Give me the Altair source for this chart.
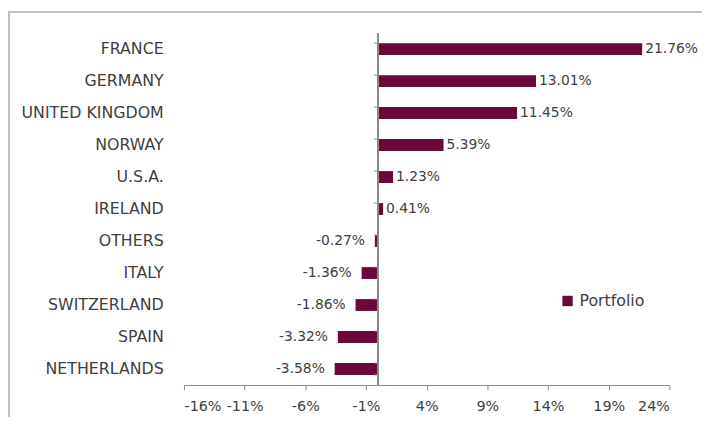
import altair as alt
import pandas as pd

countries = ["FRANCE", "GERMANY", "UNITED KINGDOM", "NORWAY", "U.S.A.", "IRELAND",
             "OTHERS", "ITALY", "SWITZERLAND", "SPAIN", "NETHERLANDS"]
values = [21.76, 13.01, 11.45, 5.39, 1.23, 0.41, -0.27, -1.36, -1.86, -3.32, -3.58]
series = "Portfolio"
x_ticks = [-16, -11, -6, -1, 4, 9, 14, 19, 24]

df = pd.DataFrame({
    "country": countries,
    "value": values,
    "series": [series] * len(countries),
    "label": [f"{v:.2f}%" for v in values],
})

FONT = "DejaVu Sans"
TXT = "#404040"
BAR = "#6A0A3A"
GRID = "#8c8c8c"

y_enc = alt.Y("country:N", sort=countries,
              scale=alt.Scale(paddingInner=0.63, paddingOuter=0.315),
              axis=alt.Axis(title=None, ticks=False, domain=False, labelPadding=21,
                            labelFont=FONT, labelFontSize=16, labelColor=TXT))

base = alt.Chart(df)

bars = base.mark_bar(size=12).encode(
    x=alt.X("value:Q", scale=alt.Scale(domain=[-16, 24], nice=False, zero=False),
            axis=alt.Axis(title=None, values=x_ticks, grid=False, tickSize=5,
                          domainColor=GRID, tickColor=GRID, labelPadding=10,
                          labelFont=FONT, labelFontSize=14.5, labelColor=TXT,
                          labelExpr="datum.value + '%'")),
    x2=alt.datum(0),
    y=y_enc,
    color=alt.Color("series:N", scale=alt.Scale(range=[BAR]),
                    legend=alt.Legend(title=None, orient="none", legendX=380, legendY=263,
                                      symbolType="square", symbolSize=110,
                                      symbolStrokeWidth=0, labelFont=FONT,
                                      labelFontSize=16, labelColor=TXT)),
)

pos_text = base.transform_filter("datum.value >= 0").mark_text(
    align="left", baseline="middle", dx=3, font=FONT, fontSize=14, color=TXT
).encode(x="value:Q", y=alt.Y("country:N", sort=countries), text="label:N")

neg_text = base.transform_filter("datum.value < 0").mark_text(
    align="right", baseline="middle", dx=-10, font=FONT, fontSize=14, color=TXT
).encode(x="value:Q", y=alt.Y("country:N", sort=countries), text="label:N")

zero_line = base.mark_rule(color=GRID, strokeWidth=1).encode(x=alt.datum(0))

tick_shape = "M -1 0 L 0 0"
ticks_top = base.mark_point(shape=tick_shape, size=64, color=GRID, strokeWidth=1,
                            filled=False, opacity=1).encode(
    x=alt.datum(0), y=alt.Y("country:N", sort=countries, bandPosition=0))
ticks_bottom = base.transform_filter(f"datum.country == '{countries[-1]}'").mark_point(
    shape=tick_shape, size=64, color=GRID, strokeWidth=1, filled=False, opacity=1).encode(
    x=alt.datum(0), y=alt.Y("country:N", sort=countries, bandPosition=1))

frame_top = base.mark_rule(color="#c0c0c0", strokeWidth=1.5).encode(
    x=alt.value(-178), x2=alt.value(540), y=alt.value(-21))
frame_left = base.mark_rule(color="#c0c0c0", strokeWidth=1.5).encode(
    x=alt.value(-177), y=alt.value(-21), y2=alt.value(420))

chart = alt.layer(frame_top, frame_left, bars, zero_line, ticks_top, ticks_bottom,
                  pos_text, neg_text).properties(
    width=491, height=356,
    autosize=alt.AutoSizeParams(type="none"),
    padding={"left": 178, "top": 23, "right": 33, "bottom": 30},
).configure_view(stroke=None)

chart.save("out.html", embed_options={"renderer": "svg", "actions": False})
